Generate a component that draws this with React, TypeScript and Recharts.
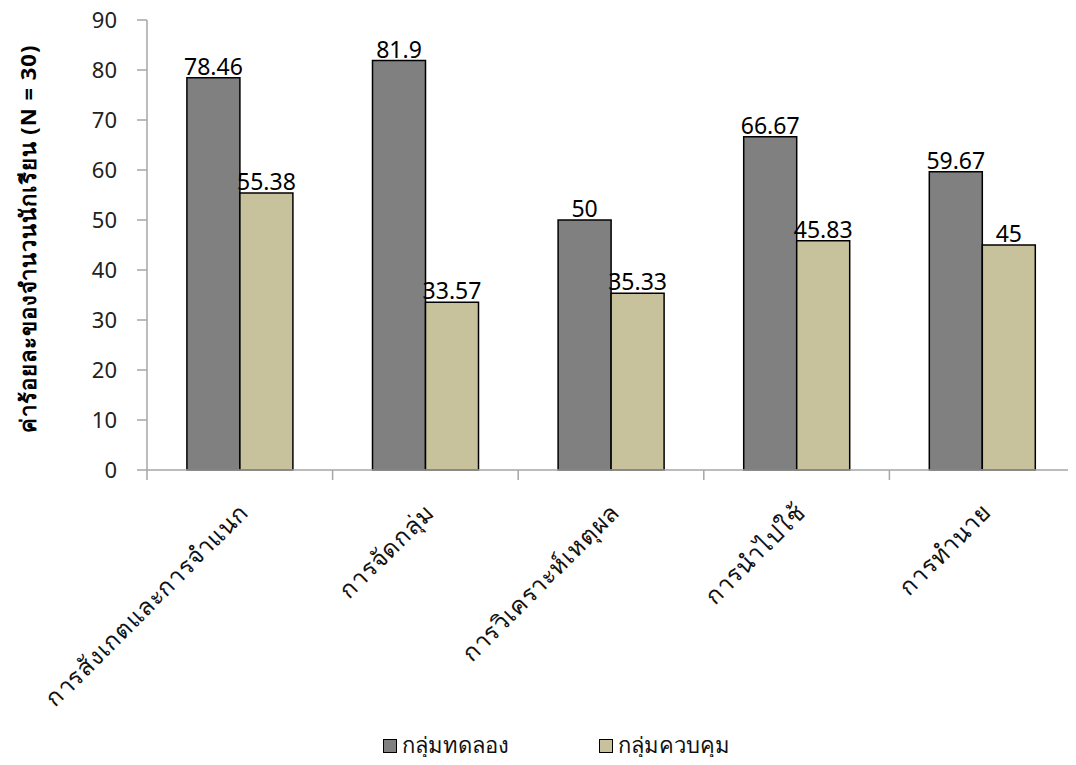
import React from "react"
import { BarChart, Bar, XAxis, YAxis, LabelList } from "recharts"

const categories = [
  "การสังเกตและการจำแนก",
  "การจัดกลุ่ม",
  "การวิเคราะห์เหตุผล",
  "การนำไปใช้",
  "การทำนาย",
]
const experimental = [78.46, 81.9, 50, 66.67, 59.67]
const control = [55.38, 33.57, 35.33, 45.83, 45]
const yTicks = [0, 10, 20, 30, 40, 50, 60, 70, 80, 90]

const SERIES = [
  { key: "exp", name: "กลุ่มทดลอง", color: "#808080" },
  { key: "ctl", name: "กลุ่มควบคุม", color: "#c8c29c" },
]

const data = categories.map((c, i) => ({
  name: c,
  exp: experimental[i],
  ctl: control[i],
}))

const W = 1076
const H = 765
const MARGIN = { top: 20, right: 1, left: 0, bottom: 0 }
const Y_WIDTH = 147
const FONT = "'Noto Sans', Tahoma, sans-serif"
const STEP = (W - MARGIN.left - MARGIN.right - Y_WIDTH) / categories.length

function CategoryTick(props: any) {
  const { x, y, payload, index } = props
  const last = index === categories.length - 1
  return (
    <g>
      <line x1={x - STEP / 2} y1={y - 8} x2={x - STEP / 2} y2={y + 2} stroke="#a6a6a6" strokeWidth={1.5} />
      {last && (
        <line x1={x + STEP / 2} y1={y - 8} x2={x + STEP / 2} y2={y + 2} stroke="#a6a6a6" strokeWidth={1.5} />
      )}
      <text
        x={0}
        y={0}
        transform={`translate(${x + 10},${y + 36}) rotate(-45)`}
        textAnchor="end"
        fontSize={24}
        letterSpacing={0.6}
        fill="#111"
        fontFamily={FONT}
      >
        {payload.value}
      </text>
    </g>
  )
}

export default function App() {
  return (
    <div style={{ margin: -8, width: W, height: H, position: "relative", background: "#fff" }}>
      <BarChart
        width={W}
        height={H}
        data={data}
        margin={MARGIN}
        barCategoryGap="21.5%"
        barGap={0}
      >
        <XAxis
          dataKey="name"
          height={295}
          interval={0}
          tickLine={false}
          stroke="#a6a6a6"
          strokeWidth={1.5}
          tick={<CategoryTick />}
        />
        <YAxis
          width={Y_WIDTH}
          domain={[0, 90]}
          ticks={yTicks}
          interval={0}
          stroke="#a6a6a6"
          strokeWidth={1.5}
          tickSize={10}
          tickMargin={20}
          tick={{ fontSize: 22, fill: "#222", fontFamily: FONT }}
          label={{
            content: (p: any) => {
              const vb = p.viewBox
              const cx = 30
              const cy = vb.y + vb.height / 2 - 6
              return (
                <text
                  transform={`translate(${cx},${cy}) rotate(-90)`}
                  textAnchor="middle"
                  dominantBaseline="middle"
                  fontSize={22}
                  letterSpacing={1}
                  fontWeight="bold"
                  fill="#000"
                  fontFamily={FONT}
                >
                  ค่าร้อยละของจำนวนนักเรียน (N = 30)
                </text>
              )
            },
          }}
        />
        {SERIES.map((s) => (
          <Bar
            key={s.key}
            dataKey={s.key}
            name={s.name}
            fill={s.color}
            stroke="#000"
            strokeWidth={1.5}
            isAnimationActive={false}
          >
            <LabelList
              dataKey={s.key}
              position="top"
              offset={3}
              fontSize={23}
              fill="#000"
              fontFamily={FONT}
            />
          </Bar>
        ))}
      </BarChart>
      <div
        style={{
          position: "absolute",
          top: 728,
          left: 383,
          display: "flex",
          gap: 90,
          fontFamily: FONT,
          fontSize: 22,
          color: "#111",
        }}
      >
        {SERIES.map((s) => (
          <div key={s.key} style={{ display: "flex", alignItems: "center", gap: 5 }}>
            <span
              style={{
                width: 12,
                height: 12,
                background: s.color,
                border: "1.5px solid #000",
                display: "inline-block",
              }}
            />
            <span>{s.name}</span>
          </div>
        ))}
      </div>
    </div>
  )
}
